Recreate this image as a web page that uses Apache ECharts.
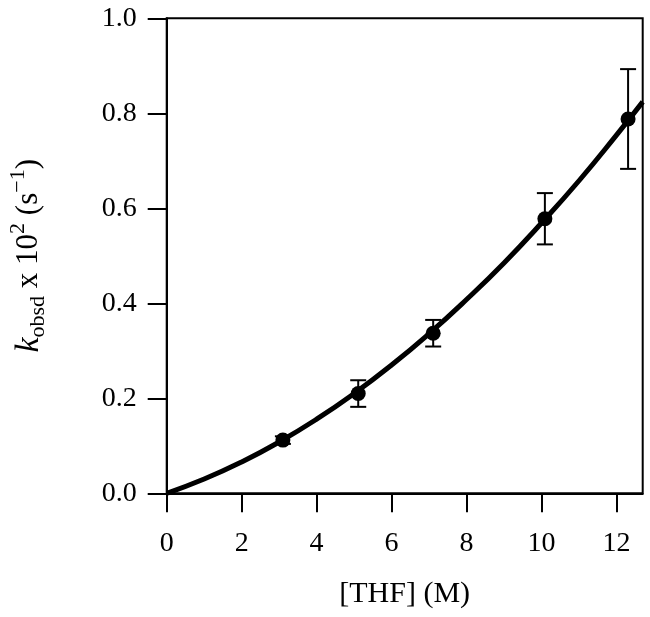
<!DOCTYPE html>
<html>
<head>
<meta charset="utf-8">
<script src="https://cdn.jsdelivr.net/npm/echarts@6/dist/echarts.min.js"></script>
<style>
html,body{margin:0;padding:0;background:#fff;}
#chart{width:650px;height:617px;}
</style>
</head>
<body>
<div id="chart"></div>
<script>
// Data
var thf = [3.1, 5.11, 7.11, 10.09, 12.31];
var kobs = [0.112, 0.210, 0.337, 0.578, 0.788];
var kerr = [0.008, 0.028, 0.028, 0.054, 0.105];
// Fitted curve points
var curveX = [0, 1, 2, 3, 4, 5, 6, 7, 8, 9, 10, 11, 12, 12.7];
var curveY = [0, 0.030, 0.066, 0.108, 0.156, 0.210, 0.270, 0.336, 0.408, 0.485, 0.569, 0.658, 0.754, 0.824];
var xTicks = [0, 2, 4, 6, 8, 10, 12];
var yTicks = [0, 0.2, 0.4, 0.6, 0.8, 1.0];

var FONT = "'Liberation Serif', serif";
var chart = echarts.init(document.getElementById('chart'), null, {renderer: 'canvas'});

var pts = thf.map(function (x, i) { return [x, kobs[i]]; });
var errData = thf.map(function (x, i) { return [x, kobs[i] - kerr[i], kobs[i] + kerr[i]]; });
var curve = curveX.map(function (x, i) { return [x, curveY[i]]; });

var option = {
  backgroundColor: '#fff',
  animation: false,
  grid: {
    left: 166.7, top: 18.3, right: 7.3, bottom: 123.7,
    containLabel: false, outerBoundsMode: 'none',
    show: true, borderColor: '#000', borderWidth: 2, backgroundColor: 'transparent'
  },
  xAxis: {
    type: 'value', min: 0, max: 12.7, interval: 2,
    axisLine: {show: true, onZero: false, lineStyle: {color: '#000', width: 2}},
    axisTick: {show: true, inside: false, length: 19, lineStyle: {color: '#000', width: 2}, customValues: xTicks},
    axisLabel: {color: '#000', fontFamily: FONT, fontSize: 28, margin: 36, customValues: xTicks},
    splitLine: {show: false},
    name: '[THF] (M)', nameLocation: 'middle', nameGap: 86,
    nameTextStyle: {color: '#000', fontFamily: FONT, fontSize: 30}
  },
  yAxis: {
    type: 'value', min: 0, max: 1, interval: 0.2,
    axisLine: {show: true, onZero: false, lineStyle: {color: '#000', width: 2}},
    axisTick: {show: true, inside: false, length: 19, lineStyle: {color: '#000', width: 2}, customValues: yTicks},
    axisLabel: {color: '#000', fontFamily: FONT, fontSize: 28, margin: 30, customValues: yTicks,
      formatter: function (v) { return v.toFixed(1); }},
    splitLine: {show: false},
    name: '{k|k}{sub|obsd}{n| x 10}{sup|2}{n| (s}{sup|\u22121}{n|)}',
    nameLocation: 'middle', nameGap: 117, nameRotate: 90,
    nameTextStyle: {
      color: '#000', fontFamily: FONT, fontSize: 31,
      rich: {
        k: {fontFamily: FONT, fontSize: 34, fontStyle: 'italic', color: '#000', lineHeight: 42, verticalAlign: 'middle'},
        n: {fontFamily: FONT, fontSize: 31, color: '#000', lineHeight: 42, verticalAlign: 'middle'},
        sub: {fontFamily: FONT, fontSize: 22, color: '#000', lineHeight: 42, verticalAlign: 'bottom'},
        sup: {fontFamily: FONT, fontSize: 22, color: '#000', lineHeight: 42, verticalAlign: 'top'}
      }
    }
  },
  series: [
    {
      type: 'line', data: curve, smooth: true, showSymbol: false, symbol: 'none',
      lineStyle: {color: '#000', width: 5}, clip: true, z: 2
    },
    {
      type: 'custom', z: 3,
      renderItem: function (params, api) {
        var x = api.value(0);
        var lo = api.coord([x, api.value(1)]);
        var hi = api.coord([x, api.value(2)]);
        var w = 8;
        var st = {stroke: '#000', lineWidth: 2};
        return {
          type: 'group',
          children: [
            {type: 'line', shape: {x1: lo[0], y1: lo[1], x2: hi[0], y2: hi[1]}, style: st},
            {type: 'line', shape: {x1: lo[0] - w, y1: lo[1], x2: lo[0] + w, y2: lo[1]}, style: st},
            {type: 'line', shape: {x1: hi[0] - w, y1: hi[1], x2: hi[0] + w, y2: hi[1]}, style: st}
          ]
        };
      },
      encode: {x: 0, y: [1, 2]},
      data: errData
    },
    {
      type: 'scatter', data: pts, symbol: 'circle', symbolSize: 15,
      itemStyle: {color: '#000', opacity: 1}, z: 4
    }
  ]
};
chart.setOption(option);
</script>
</body>
</html>
